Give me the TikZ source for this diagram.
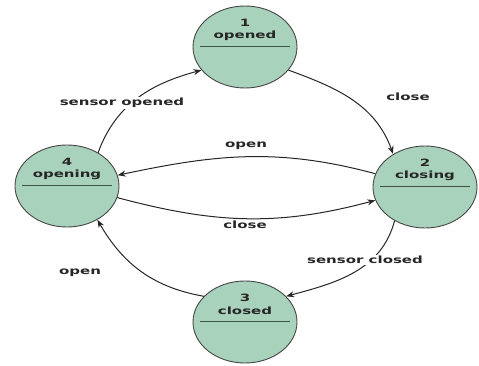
\documentclass[tikz,border=0pt]{standalone}
\usepackage{fontspec}
\usetikzlibrary{shapes.geometric,arrows.meta}
\newfontfamily\lblfont{DejaVu Sans Bold}[FakeStretch=1.5]
\definecolor{statefill}{RGB}{168,210,188}
\definecolor{stateedge}{RGB}{70,70,70}
\definecolor{divcol}{RGB}{60,80,70}
\tikzset{
  state/.style={ellipse, draw=stateedge, line width=0.9pt, fill=statefill,
    minimum width=104pt, minimum height=82pt, inner sep=0pt},
  stext/.style={font=\lblfont\fontsize{10}{11}\selectfont, text=black!85, inner sep=0pt},
  divider/.style={draw=divcol, line width=0.9pt},
  trans/.style={draw=black!85, line width=1pt, -{Stealth[length=8pt,width=6pt]}},
  elabel/.style={font=\lblfont\fontsize{10}{11}\selectfont, text=black!85, inner sep=1.5pt},
  onlabel/.style={elabel, fill=white}
}
\begin{document}
\begin{tikzpicture}[x=1pt,y=1pt]
\useasboundingbox (0,0) rectangle (479,-366);

% states
\node[state] (n1) at (245,-47) {};
\node[state] (n2) at (425,-187) {};
\node[state] (n3) at (245,-322) {};
\node[state] (n4) at (67,-186) {};

% state titles and dividers
\foreach \s/\num/\name in {n1/1/opened, n2/2/closing, n3/3/closed, n4/4/opening}{
  \node[stext] (\s num) at ([yshift=24pt]\s.center) {\num};
  \node[stext] (\s name) at ([yshift=11pt]\s.center) {\name};
  \draw[divider] ([xshift=-45pt,yshift=1pt]\s.center) -- ([xshift=45pt,yshift=1pt]\s.center);
}

% transitions
\draw[trans] (n4.47) to[out=70,in=195] (n1.208);
\draw[trans] (n1.-28) to[out=-20,in=110] (n2.134);
\draw[trans] (n2.165) to[out=165,in=12] (n4.12);
\draw[trans] (n4.-13) to[out=-15,in=195] (n2.195);
\draw[trans] (n2.228) to[out=-105,in=15] (n3.32);
\draw[trans] (n3.148) to[out=170,in=-60] (n4.-48);

% transition labels
\node[onlabel] (lso) at (122,-103) {sensor opened};
\node[elabel] (lc1) at (408,-97) {close};
\node[elabel] (lo1) at (246,-146) {open};
\node[elabel] (lc2) at (245,-225) {close};
\node[onlabel] (lsc) at (365,-260) {sensor closed};
\node[elabel] (lo2) at (80,-273) {open};
\end{tikzpicture}
\end{document}
